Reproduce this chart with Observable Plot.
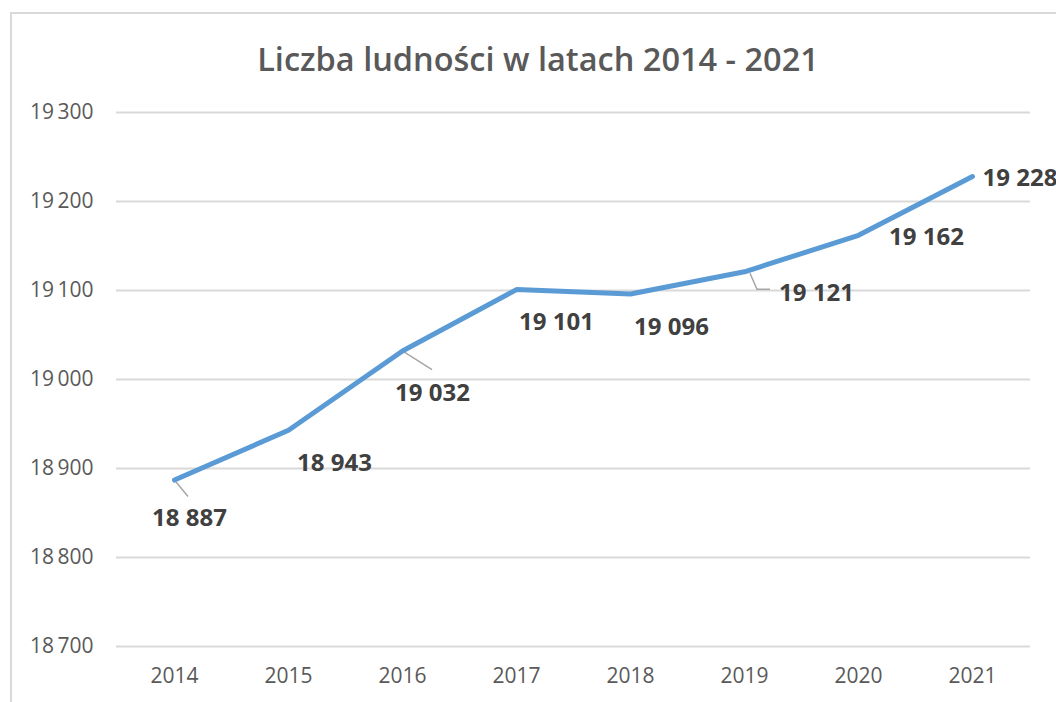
<!DOCTYPE html>
<html>
<head>
<meta charset="utf-8">
<script src="https://cdn.jsdelivr.net/npm/d3@7"></script>
<script src="https://cdn.jsdelivr.net/npm/@observablehq/plot@0.6"></script>
<style>
  html, body { margin: 0; padding: 0; width: 1056px; height: 702px; overflow: hidden; background: #fff; }
  #frame { position: absolute; left: 10px; top: 12px; width: 1200px; height: 900px; border: 2px solid #d9d9d9; box-sizing: border-box; }
  #title { position: absolute; left: 0; width: 1076px; top: 43px; line-height: 32px; text-align: center; font-family: "Open Sans", sans-serif; font-weight: 600; font-size: 32.5px; color: #595959; }
  #chart { position: absolute; left: 0; top: 0; }
</style>
</head>
<body>
<div id="frame"></div>
<div id="chart"></div>
<div id="title">Liczba ludności w latach 2014 - 2021</div>
<script>
const years = [2014, 2015, 2016, 2017, 2018, 2019, 2020, 2021];
const population = [18887, 18943, 19032, 19101, 19096, 19121, 19162, 19228];
const yTicks = [18700, 18800, 18900, 19000, 19100, 19200, 19300];
const labelTexts = ["18 887", "18 943", "19 032", "19 101", "19 096", "19 121", "19 162", "19 228"];

// label placement (pixel offsets from each point)
const labelPlacement = [
  {dx: 15, dy: 38, anchor: "middle"},
  {dx: 46, dy: 33, anchor: "middle"},
  {dx: 30, dy: 42, anchor: "middle"},
  {dx: 40, dy: 33, anchor: "middle"},
  {dx: 41, dy: 33, anchor: "middle"},
  {dx: 72, dy: 22, anchor: "middle"},
  {dx: 68, dy: 2, anchor: "middle"},
  {dx: 10, dy: 2, anchor: "start"}
];
const leaders = [
  {i: 0, pts: [[0, 0], [14, 17]]},
  {i: 2, pts: [[0, 0], [30, 19]]},
  {i: 5, pts: [[6, 2], [13, 18], [26, 18]]}
];

const data = years.map((y, i) => ({year: String(y), value: population[i], label: labelTexts[i]}));
const fmt = v => String(v).replace(/\B(?=(\d{3})+(?!\d))/g, "\u2009");

const chart = Plot.plot({
  width: 1056,
  height: 702,
  marginLeft: 116,
  marginRight: 26,
  marginTop: 112,
  marginBottom: 56,
  style: {fontFamily: "'Open Sans', sans-serif", fontSize: "21px", color: "#595959", background: "transparent"},
  x: {type: "point", domain: years.map(String), padding: 0.5, label: null, tickSize: 0, tickPadding: 22},
  y: {domain: [18700, 19300], ticks: yTicks, tickFormat: fmt, label: null, tickSize: 0, tickPadding: 23},
  marks: [
    Plot.ruleY(yTicks, {stroke: "#d9d9d9", strokeWidth: 2}),
    Plot.line(data, {x: "year", y: "value", stroke: "#5b9bd5", strokeWidth: 5, strokeLinecap: "round", strokeLinejoin: "round"}),
    ...data.map((d, i) => Plot.text([d], {
      x: "year", y: "value", text: "label",
      dx: labelPlacement[i].dx, dy: labelPlacement[i].dy,
      textAnchor: labelPlacement[i].anchor,
      fontSize: 24, fontWeight: "bold", fill: "#404040"
    }))
  ]
});
document.getElementById("chart").appendChild(chart);

// leader lines positioned via the chart's scales
const sx = chart.scale("x"), sy = chart.scale("y");
const lineG = chart.querySelector("g[aria-label='line']");
leaders.forEach(l => {
  const d = data[l.i];
  const px = sx.apply(d.year), py = sy.apply(d.value);
  const path = document.createElementNS("http://www.w3.org/2000/svg", "path");
  path.setAttribute("d", d3.line()(l.pts.map(([a, b]) => [px + a, py + b])));
  path.setAttribute("fill", "none");
  path.setAttribute("stroke", "#a6a6a6");
  path.setAttribute("stroke-width", 1.5);
  lineG.parentNode.insertBefore(path, lineG);
});
</script>
</body>
</html>
